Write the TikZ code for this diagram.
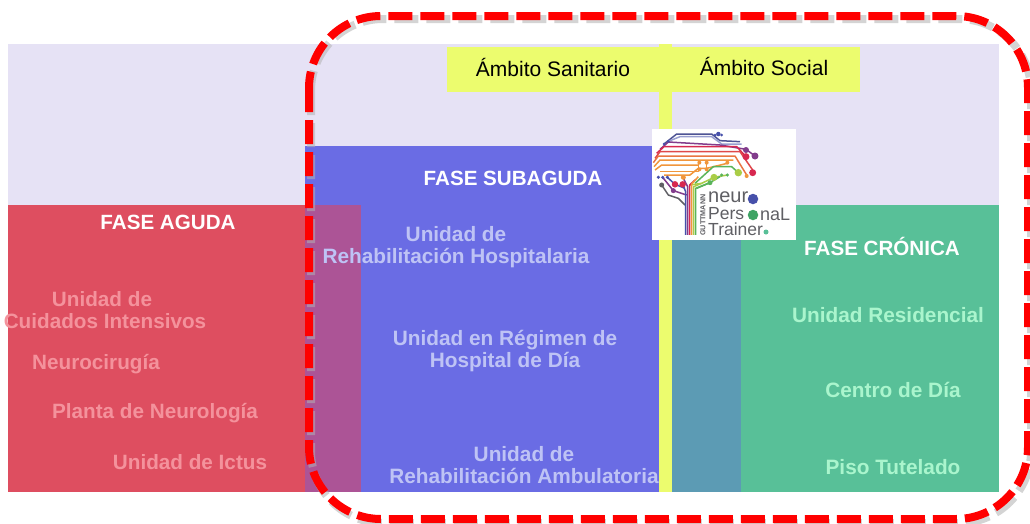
\documentclass[tikz,border=0pt]{standalone}
\usepackage{fontspec}
\setmainfont{Liberation Sans}
\definecolor{lav}{RGB}{230,226,245}
\definecolor{redb}{RGB}{222,78,96}
\definecolor{blueb}{RGB}{106,108,228}
\definecolor{purp}{RGB}{172,84,150}
\definecolor{greenb}{RGB}{88,192,152}
\definecolor{tealb}{RGB}{92,155,180}
\definecolor{yel}{RGB}{236,252,110}
\definecolor{pinkt}{RGB}{244,146,156}
\definecolor{bluet}{RGB}{190,195,245}
\definecolor{greent}{RGB}{170,245,205}
\definecolor{dashr}{RGB}{255,0,0}
\definecolor{lgray}{RGB}{95,95,100}
\definecolor{lblue}{RGB}{70,80,170}
\definecolor{lgreen}{RGB}{90,180,90}
\definecolor{lyg}{RGB}{170,205,70}
\definecolor{lorange}{RGB}{240,150,60}
\definecolor{lred}{RGB}{215,40,80}
\definecolor{lpurple}{RGB}{130,60,140}
\tikzset{
  x=1pt,y=-1pt,
  headt/.style={font=\bfseries\fontsize{20.6}{22}\selectfont,text=white,inner sep=0pt},
  rt/.style={font=\bfseries\fontsize{20.7}{22}\selectfont,text=pinkt,inner sep=0pt,align=center},
  bt/.style={font=\bfseries\fontsize{20.8}{21.5}\selectfont,text=bluet,inner sep=0pt,align=center},
  gt/.style={font=\bfseries\fontsize{20.8}{22}\selectfont,text=greent,inner sep=0pt,align=center},
  yt/.style={font=\fontsize{21}{22}\selectfont,text=black,inner sep=0pt},
  wire/.style={line width=1.5pt,line join=round},
  dot/.style={circle,inner sep=0pt,minimum size=#1},
  logot/.style={anchor=west,text=lgray,inner sep=0pt},
  outline/.style={line width=8pt,dash pattern=on 24pt off 8pt,rounded corners=72pt}
}
\begin{document}
\begin{tikzpicture}
\useasboundingbox (0,0) rectangle (1030,523);
\fill[white] (0,0) rectangle (1030,523);
% panels
\fill[lav] (8,44) rectangle (999,492);
\fill[redb] (8,205) rectangle (361,492);
\fill[blueb] (305,146) rectangle (659,492);
\fill[purp] (305,205) rectangle (361,492);
\fill[greenb] (672,205) rectangle (999,492);
\fill[tealb] (672,205) rectangle (741,492);
\fill[yel] (659,44) rectangle (672,492);
\fill[yel] (447,47) rectangle (860,92);
% labels
\node[yt] (sanit) at (553,67) {Ámbito Sanitario};
\node[yt] (soc) at (764,66.5) {Ámbito Social};
\node[headt] (aguda) at (168,222) {FASE AGUDA};
\node[headt] (sub) at (513,178) {FASE SUBAGUDA};
\node[headt] (cron) at (882,246.5) {FASE CRÓNICA};
\node[rt] (uci) at (105,310.5) {Unidad de\hspace*{6pt}\\Cuidados Intensivos};
\node[rt] (neu) at (96,364) {Neurocirugía};
\node[rt] (pla) at (155,413) {Planta de Neurología};
\node[rt] (ict) at (190,462) {Unidad de Ictus};
\node[bt] (urh) at (456,247) {Unidad de\\Rehabilitación Hospitalaria};
\node[bt] (hd) at (505,351) {Unidad en Régimen de\\Hospital de Día};
\node[bt] (ura) at (524,465) {Unidad de\\Rehabilitación Ambulatoria};
\node[gt] (res) at (888,315) {Unidad Residencial};
\node[gt] (cd) at (893,390) {Centro de Día};
\node[gt] (piso) at (893,467) {Piso Tutelado};
% logo
\fill[white] (652,129) rectangle (796,240);
\begin{scope}[shift={(640,120)},x=.3333pt,y=-.3333pt,wire]
\draw[lblue!70!lgray] (72,72) -- (110,42) -- (215,42) -- (240,62) -- (300,65);
\draw[lblue!55!white] (85,64) -- (120,50) -- (215,50) -- (245,72) -- (305,72);
\draw[lpurple] (60,88) -- (85,66) -- (240,75) -- (318,88) -- (345,108);
\draw[lred] (50,100) -- (72,80) -- (290,80) -- (318,110);
\draw[lred!70!lorange] (45,115) -- (60,95) -- (300,95) -- (338,150);
\draw[lorange!70!lred] (40,128) -- (55,108) -- (285,108) -- (320,165);
\draw[lorange] (42,140) -- (60,120) -- (280,120);
\draw[lorange] (45,150) -- (65,135) -- (175,135);
\draw[lorange] (60,155) -- (175,155) -- (175,125);
\draw[lorange] (200,125) -- (200,150);
\draw[lorange] (72,165) -- (150,165) -- (175,145) -- (200,145) -- (262,130);
\draw[lgreen] (165,190) -- (220,140) -- (275,140) -- (295,158);
\draw[lyg] (150,195) -- (185,190) -- (222,172) -- (262,165);
\draw[lgreen] (170,205) -- (210,188) -- (240,170);
\draw[lgray] (65,195) -- (85,225) -- (115,235) -- (135,255);
\draw[lpurple] (68,172) -- (100,212) -- (140,225);
\draw[lblue] (82,172) -- (105,193) -- (135,205);
\draw[lblue] (137,345) -- (137,215) -- (128,193);
\draw[lpurple] (143,345) -- (143,200) -- (130,175);
\draw[lred] (149,345) -- (149,195) -- (165,180);
\draw[lorange] (155,345) -- (155,192) -- (175,170);
\draw[lyg] (161,345) -- (161,200) -- (185,190);
\draw[lgreen] (167,345) -- (167,205) -- (210,188);
\foreach \x/\y/\s/\c in {345/108/7pt/lpurple,318/90/6pt/lpurple,318/110/7pt/lred,338/158/7pt/lred,
  178/128/4pt/lorange,200/128/4pt/lorange,178/148/4pt/lorange,200/148/4pt/lorange,262/128/4pt/lorange,
  295/158/7.5pt/lyg,320/168/4pt/lorange,222/172/7pt/lyg,245/165/3.5pt/lgreen,262/165/3.5pt/lgreen,210/188/5pt/lgreen,
  55/172/3.5pt/lblue,68/172/3.5pt/lblue,82/172/3.5pt/lblue,65/195/5pt/lgray,105/193/6.5pt/lred,128/193/6.5pt/lred,
  130/172/5pt/lorange,100/212/5pt/lpurple,235/42/4.5pt/lblue,225/45/3pt/lblue,245/45/3pt/lblue,85/64/3pt/lblue,72/72/3pt/lblue}
  {\node[dot=\s,fill=\c] at (\x,\y) {};}
\end{scope}
\node[rotate=90,font=\bfseries\fontsize{7.2}{8}\selectfont,text=lgray,inner sep=0pt] (gut) at (703,215) {GUTTMANN};
\node[logot,font=\fontsize{20}{20}\selectfont] (n1) at (708,197.5) {neur};
\node[dot=10.5pt,fill=lblue] (o1) at (753,199) {};
\node[logot,font=\fontsize{17.5}{18}\selectfont] (n2) at (708,214) {Pers};
\node[dot=10.5pt,fill=lgreen!70!teal] (o2) at (753,215) {};
\node[logot,font=\fontsize{18}{18}\selectfont] (n3) at (760,214.5) {naL};
\node[logot,font=\fontsize{17.5}{18}\selectfont] (n4) at (708,229.5) {Trainer};
\node[dot=5pt,fill=greenb] (reg) at (766,232) {};
% dashed outline
\draw[outline,gray!60,opacity=.55] (311,19) rectangle (1031,523);
\draw[outline,dashr] (309,16) rectangle (1028,519);
\end{tikzpicture}
\end{document}
